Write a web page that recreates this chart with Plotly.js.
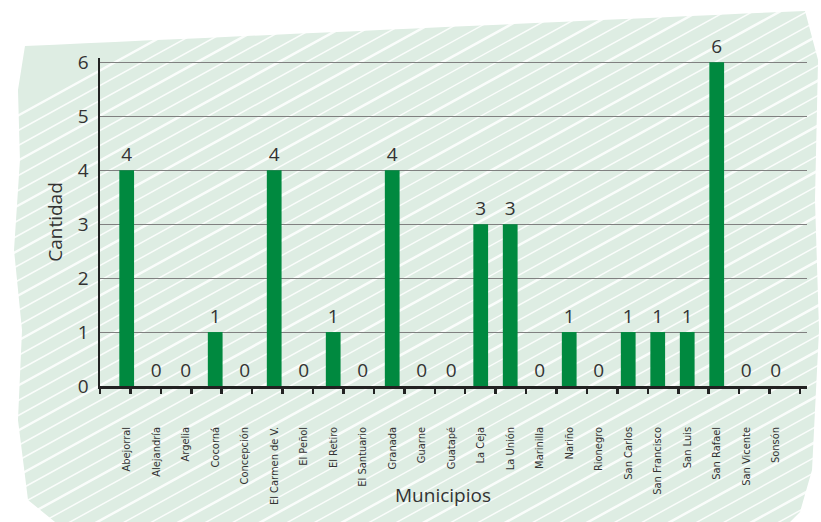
<!DOCTYPE html>
<html>
<head>
<meta charset="utf-8">
<script src="https://cdn.plot.ly/plotly-3.0.1.min.js"></script>
<style>html,body{margin:0;padding:0;background:#fff;}#chart{width:821px;height:522px;}</style>
</head>
<body>
<div id="chart"></div>
<script>
const municipios = ["Abejorral","Alejandría","Argelia","Cocorná","Concepción","El Carmen de V.","El Peñol","El Retiro","El Santuario","Granada","Guarne","Guatapé","La Ceja","La Unión","Marinilla","Nariño","Rionegro","San Carlos","San Francisco","San Luis","San Rafael","San Vicente","Sonsón"];
const cantidad = [4,0,0,1,0,4,0,1,0,4,0,0,3,3,0,1,0,1,1,1,6,0,0];
const yTicks = [0,1,2,3,4,5,6];

// plot area geometry (pixels) used only to place decorative background shapes
const W = 821, H = 522, L = 100, R = 14, T = 58, B = 136;
const PW = W - L - R, PH = H - T - B;
const px = x => (x - L) / PW;
const py = y => (H - B - y) / PH;

// decorative scribble background
function blobPath() {
  const pts = [];
  for (let x = 25; x <= 815; x += 30) {
    const yTop = 52 - (x - 25) * 0.045;
    pts.push([x, yTop + ((x / 30) % 2 ? -6 : 4)]);
  }
  pts.push([818, 60]); pts.push([815, 200]); pts.push([819, 330]); pts.push([812, 470]); pts.push([800, 512]);
  for (let x = 790; x >= 40; x -= 35) {
    pts.push([x, 518 + ((x / 35) % 2 ? 4 : -2)]);
  }
  pts.push([28, 500]); pts.push([18, 420]); pts.push([22, 330]); pts.push([14, 250]); pts.push([20, 160]); pts.push([18, 90]);
  return 'M ' + pts.map(p => px(p[0]).toFixed(4) + ' ' + py(p[1]).toFixed(4)).join(' L ') + ' Z';
}
const shapes = [{
  type: 'path', xref: 'paper', yref: 'paper', layer: 'below',
  path: blobPath(), fillcolor: '#deede3', line: {width: 0}
}];
const slope = 0.55;
let k = 0;
for (let c = -380; c < 560; c += 15) {
  const x0 = 10, x1 = 821;
  const y0 = c + 500, y1 = y0 - slope * (x1 - x0);
  shapes.push({
    type: 'line', xref: 'paper', yref: 'paper', layer: 'below',
    x0: px(x0), y0: py(y0), x1: px(x1), y1: py(y1),
    line: {color: 'rgba(255,255,255,0.85)', width: (k % 3 === 0) ? 2.5 : 1.5}
  });
  k++;
}

const trace = {
  type: 'bar',
  x: municipios,
  y: cantidad,
  width: 0.5,
  marker: {color: '#00893f', line: {width: 0}},
  text: cantidad.map(String),
  textposition: 'outside',
  cliponaxis: false,
  textfont: {family: 'Open Sans, sans-serif', size: 19, color: '#333'},
  hoverinfo: 'x+y'
};

const layout = {
  width: W, height: H,
  margin: {l: L, r: R, t: T, b: B, pad: 0},
  paper_bgcolor: '#ffffff',
  plot_bgcolor: 'rgba(0,0,0,0)',
  showlegend: false,
  font: {family: 'Open Sans, sans-serif', color: '#333'},
  bargap: 0.5,
  xaxis: {
    type: 'category',
    range: [-0.905, 23.06],
    showline: true, linecolor: '#222', linewidth: 2.5,
    ticks: '', showgrid: false, zeroline: false,
    tickangle: -90,
    tickfont: {family: '"Liberation Sans Narrow", "DejaVu Sans Condensed", sans-serif', size: 11, color: '#333'},
    ticklabelstandoff: 34,
    automargin: false
  },
  xaxis2: {
    overlaying: 'x', anchor: 'y',
    range: [0, 23.23], tick0: 0, dtick: 1,
    ticks: 'outside', ticklen: 7, tickwidth: 2.5, tickcolor: '#222',
    showticklabels: false, showgrid: false, zeroline: false, showline: false
  },
  yaxis: {
    range: [0, 6.08],
    tickvals: yTicks,
    ticktext: yTicks.map(String),
    showline: true, linecolor: '#222', linewidth: 2.5,
    ticks: '', showgrid: true, gridcolor: '#808080', gridwidth: 1,
    zeroline: false,
    tickfont: {family: 'Open Sans, sans-serif', size: 19, color: '#333'},
    ticklabelstandoff: 5,
    automargin: false,
    title: {text: 'Cantidad', font: {family: 'Open Sans, sans-serif', size: 19, color: '#333'}, standoff: 10}
  },
  annotations: [{
    text: 'Municipios', xref: 'paper', yref: 'paper',
    x: px(443), y: py(495), xanchor: 'center', yanchor: 'middle', showarrow: false,
    font: {family: 'Open Sans, sans-serif', size: 19, color: '#333'}
  }],
  shapes: shapes
};

Plotly.newPlot('chart', [trace, {type: 'scatter', x: [], y: [], xaxis: 'x2', yaxis: 'y', hoverinfo: 'skip', showlegend: false}], layout, {displayModeBar: false, staticPlot: true});
</script>
</body>
</html>
